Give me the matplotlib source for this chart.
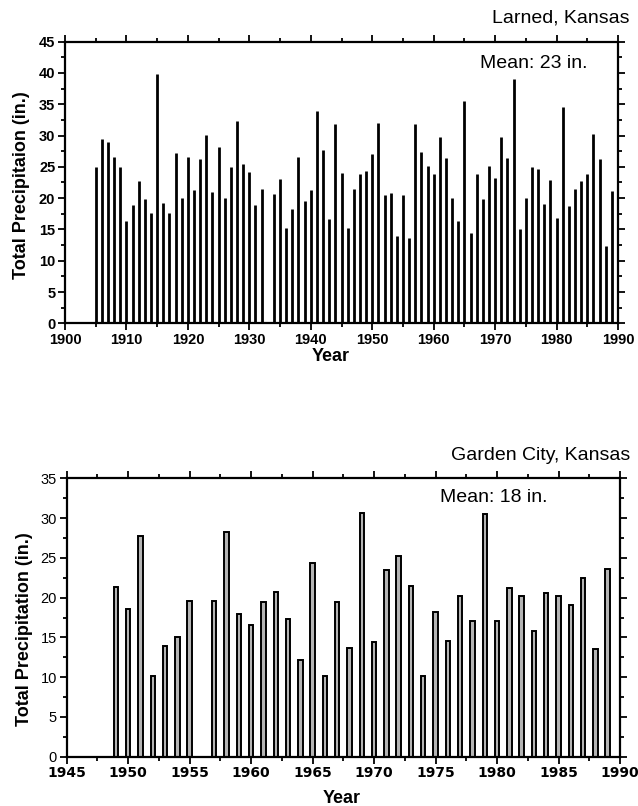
import matplotlib
matplotlib.use("Agg")
import matplotlib.pyplot as plt
from matplotlib.ticker import MultipleLocator

plt.rcParams['font.family'] = ['Liberation Sans', 'DejaVu Sans']

# Larned, Kansas annual precipitation (1933 missing)
larned_years = [1905, 1906, 1907, 1908, 1909, 1910, 1911, 1912, 1913, 1914,
                1915, 1916, 1917, 1918, 1919, 1920, 1921, 1922, 1923, 1924,
                1925, 1926, 1927, 1928, 1929, 1930, 1931, 1932, 1934,
                1935, 1936, 1937, 1938, 1939, 1940, 1941, 1942, 1943, 1944,
                1945, 1946, 1947, 1948, 1949, 1950, 1951, 1952, 1953, 1954,
                1955, 1956, 1957, 1958, 1959, 1960, 1961, 1962, 1963, 1964,
                1965, 1966, 1967, 1968, 1969, 1970, 1971, 1972, 1973, 1974,
                1975, 1976, 1977, 1978, 1979, 1980, 1981, 1982, 1983, 1984,
                1985, 1986, 1987, 1988, 1989]
larned_precip = [25.0, 29.5, 28.9, 26.5, 25.0, 16.4, 18.9, 22.7, 19.8, 17.7,
                 39.8, 19.3, 17.7, 27.2, 20.1, 26.6, 21.3, 26.2, 30.1, 21.0,
                 28.1, 20.1, 25.0, 32.3, 25.4, 24.2, 18.9, 21.5, 20.6,
                 23.0, 15.3, 18.3, 26.6, 19.5, 21.3, 34.0, 27.7, 16.6, 31.8,
                 24.0, 15.3, 21.4, 23.9, 24.4, 27.1, 32.0, 20.5, 20.8, 13.9,
                 20.5, 13.6, 31.8, 27.3, 25.1, 23.9, 29.8, 26.4, 20.0, 16.3,
                 35.5, 14.4, 23.9, 19.9, 25.1, 23.2, 29.8, 26.4, 39.0, 15.1,
                 20.0, 24.9, 24.7, 19.1, 22.9, 16.8, 34.5, 18.8, 21.4, 22.7,
                 23.9, 30.3, 26.2, 12.4, 21.2]

# Garden City, Kansas annual precipitation (1956 missing)
garden_years = [1949, 1950, 1951, 1952, 1953, 1954, 1955, 1957, 1958, 1959,
                1960, 1961, 1962, 1963, 1964, 1965, 1966, 1967, 1968, 1969,
                1970, 1971, 1972, 1973, 1974, 1975, 1976, 1977, 1978, 1979,
                1980, 1981, 1982, 1983, 1984, 1985, 1986, 1987, 1988, 1989]
garden_precip = [21.3, 18.6, 27.7, 10.2, 13.9, 15.0, 19.6, 19.6, 28.3, 17.9,
                 16.5, 19.4, 20.7, 17.3, 12.2, 24.4, 10.2, 19.4, 13.7, 30.7,
                 14.4, 23.5, 25.2, 21.5, 10.2, 18.2, 14.6, 20.2, 17.1, 30.5,
                 17.1, 21.2, 20.2, 15.8, 20.6, 20.2, 19.1, 22.5, 13.5, 23.6]

W, H = 638, 806
fig = plt.figure(figsize=(W / 100, H / 100), dpi=100)

def style_axes(ax):
    for s in ax.spines.values():
        s.set_linewidth(1.6)
    ax.tick_params(which='both', direction='out', top=True, right=True,
                   width=1.3)
    ax.tick_params(which='major', length=5)
    ax.tick_params(which='minor', length=3)

# ---------- Top chart ----------
ax1 = fig.add_axes([65 / W, 1 - 323.3 / H, 553 / W, 281.6 / H])
ax1.vlines(larned_years, 0, larned_precip, colors='black', linewidth=2.0)
ax1.set_xlim(1900, 1990)
ax1.set_ylim(0, 45)
ax1.xaxis.set_major_locator(MultipleLocator(10))
ax1.xaxis.set_minor_locator(MultipleLocator(5))
ax1.yaxis.set_major_locator(MultipleLocator(5))
ax1.yaxis.set_minor_locator(MultipleLocator(2.5))
style_axes(ax1)
for lab in ax1.get_xticklabels() + ax1.get_yticklabels():
    lab.set_fontweight('bold')
    lab.set_fontsize(10.5)
ax1.tick_params(labeltop=False, labelright=False, pad=2)
ax1.set_ylabel('Total Precipitaion (in.)', fontsize=13, fontweight='bold')
ax1.yaxis.set_label_coords(-0.063, 0.49)
ax1.set_xlabel('Year', fontsize=13, fontweight='bold')
ax1.xaxis.set_label_coords(0.48, -0.088)

fig.text(630 / W, 1 - 18 / H, 'Larned, Kansas', fontsize=14,
         ha='right', va='center')
fig.text(480 / W, 1 - 63 / H, 'Mean: 23 in.', fontsize=14,
         ha='left', va='center')

# ---------- Bottom chart ----------
ax2 = fig.add_axes([66.7 / W, 1 - 756.7 / H, 553.3 / W, 278.4 / H])
ax2.bar(garden_years, garden_precip, width=0.36, color='#b4b4b4',
        edgecolor='black', linewidth=1.4)
ax2.set_xlim(1945, 1990)
ax2.set_ylim(0, 35)
ax2.xaxis.set_major_locator(MultipleLocator(5))
ax2.xaxis.set_minor_locator(MultipleLocator(2.5))
ax2.yaxis.set_major_locator(MultipleLocator(5))
ax2.yaxis.set_minor_locator(MultipleLocator(2.5))
style_axes(ax2)
for lab in ax2.get_xticklabels():
    lab.set_fontweight('bold')
    lab.set_fontsize(10)
    lab.set_family(['DejaVu Sans'])
for lab in ax2.get_yticklabels():
    lab.set_fontsize(10.5)
ax2.tick_params(labeltop=False, labelright=False, pad=2)
ax2.set_ylabel('Total Precipitation (in.)', fontsize=13, fontweight='bold')
ax2.yaxis.set_label_coords(-0.061, 0.46)
ax2.set_xlabel('Year', fontsize=13, fontweight='bold')
ax2.xaxis.set_label_coords(0.4976, -0.12)

fig.text(630 / W, 1 - 455 / H, 'Garden City, Kansas', fontsize=14,
         ha='right', va='center')
fig.text(440 / W, 1 - 497 / H, 'Mean: 18 in.', fontsize=14,
         ha='left', va='center')

fig.savefig('out.png', dpi=100)
